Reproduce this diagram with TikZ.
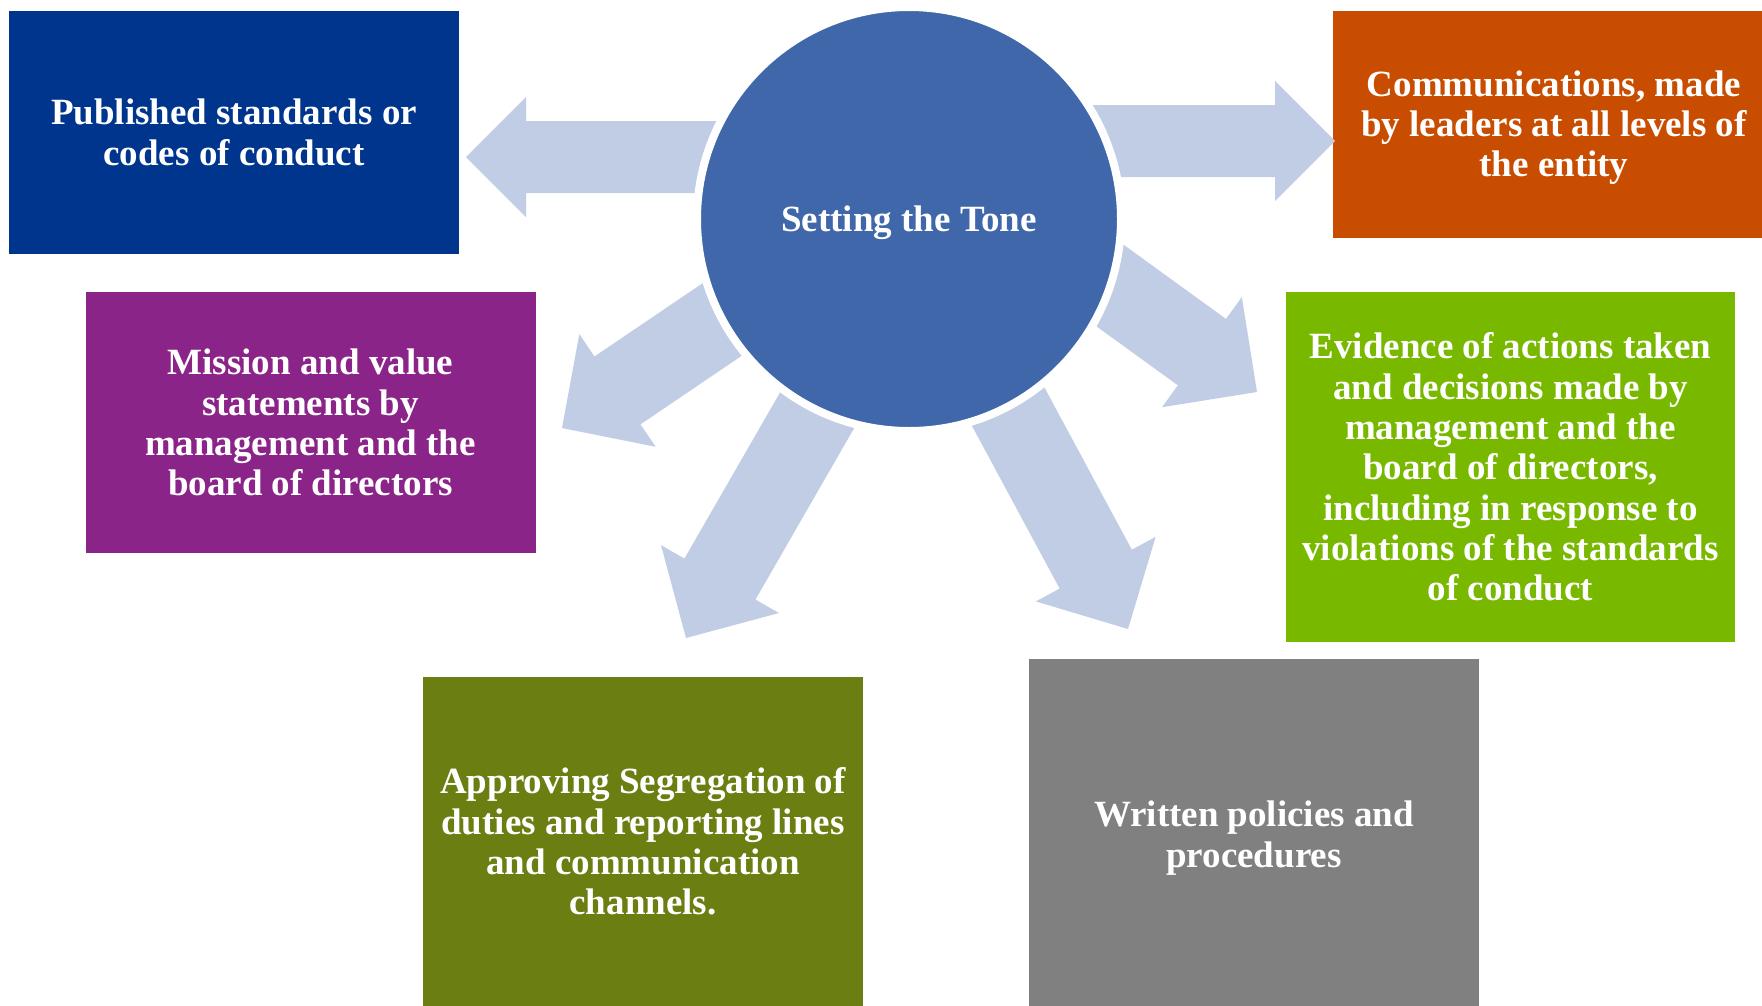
\documentclass[tikz,border=0pt]{standalone}
\usepackage{fontspec}
\setmainfont{Liberation Serif}
\usetikzlibrary{calc}
\definecolor{cBlue}{RGB}{0,53,141}
\definecolor{cOrange}{RGB}{200,77,0}
\definecolor{cPurple}{RGB}{139,36,136}
\definecolor{cGreen}{RGB}{120,185,0}
\definecolor{cOlive}{RGB}{107,126,18}
\definecolor{cGray}{RGB}{128,128,128}
\definecolor{cCircle}{RGB}{63,103,170}
\definecolor{cArrow}{RGB}{192,205,228}
\tikzset{
  txt/.style={text=white, align=center, font=\bfseries\fontsize{37pt}{40.3pt}\selectfont},
  box/.style={rectangle, inner sep=0pt, txt},
  arrowfill/.style={fill=cArrow},
  hub/.style={circle, inner sep=0pt, minimum size=424pt, fill=cCircle, draw=white, line width=8pt, txt,
              text height=25pt, text depth=0pt},
}
% #1 tail, #2 tip, #3 shaft half width, #4 head half width, #5 head length
\newcommand\blockarr[5]{%
  \coordinate (bh) at ($(#2)!#5!(#1)$);
  \fill[arrowfill] ($(#1)!#3!90:(#2)$) -- ($(bh)!#3!-90:(#1)$) -- ($(bh)!#4!-90:(#1)$)
    -- (#2) -- ($(bh)!#4!90:(#1)$) -- ($(bh)!#3!90:(#1)$) -- ($(#1)!#3!-90:(#2)$) -- cycle;
}
\begin{document}
\begin{tikzpicture}[x=1pt,y=-1pt]
\useasboundingbox (0,0) rectangle (1762,1005);
\clip (0,0) rectangle (1762,1005);
\fill[white] (0,0) rectangle (1762,1005);

% boxes
\node[box, fill=cBlue, minimum width=450pt, minimum height=243pt] (b1) at (234,132.5)
  {Published standards or\\codes of conduct};
\node[box, fill=cOrange, minimum width=442pt, minimum height=227pt] (b2) at (1554,124.5)
  {\rule{0pt}{32pt}Communications, made\\by leaders at all levels of\\the entity};
\node[box, fill=cPurple, minimum width=450pt, minimum height=261pt] (b3) at (310.5,422.5)
  {Mission and value\\statements by\\management and the\\board of directors};
\node[box, fill=cGreen, minimum width=449pt, minimum height=350pt] (b4) at (1510.5,467)
  {Evidence of actions taken\\and decisions made by\\management and the\\board of directors,\\including in response to\\violations of the standards\\of conduct};
\node[box, fill=cOlive, minimum width=440pt, minimum height=330pt] (b5) at (643,841.5)
  {Approving Segregation of\\duties and reporting lines\\and communication\\channels.};
\node[box, fill=cGray, minimum width=450pt, minimum height=358pt] (b6) at (1254,838)
  {Written policies and\\procedures};

% arrow tails (inside the hub) and tips
\coordinate (s1) at (800,157);  \coordinate (e1) at (466,157);
\coordinate (s2) at (1000,141); \coordinate (e2) at (1335,141);
\coordinate (s3) at (810,260);  \coordinate (e3) at (562,428);
\coordinate (s4) at (876,308);  \coordinate (e4) at (686,638);
\coordinate (s5) at (948,295);  \coordinate (e5) at (1128,629);
\coordinate (s6) at (1014,216); \coordinate (e6) at (1257,392);

\blockarr{s1}{e1}{36pt}{60pt}{60pt}
\blockarr{s2}{e2}{36pt}{60pt}{60pt}
\blockarr{s3}{e3}{41pt}{68pt}{67pt}
\blockarr{s4}{e4}{41pt}{68pt}{68pt}
\blockarr{s5}{e5}{41pt}{68pt}{68pt}
\blockarr{s6}{e6}{41pt}{68pt}{68pt}

% hub
\node[hub] (c) at (909,219) {Setting the Tone};
\end{tikzpicture}
\end{document}
